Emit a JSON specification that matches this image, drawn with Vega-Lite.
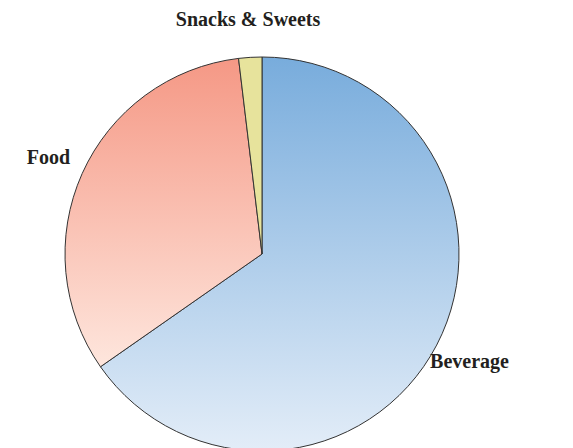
{
  "$schema": "https://vega.github.io/schema/vega-lite/v6.json",
  "autosize": "none",
  "width": 394,
  "height": 394,
  "padding": {"left": 65, "top": 57, "right": 114, "bottom": 0},
  "background": "white",
  "config": {"view": {"stroke": null}},
  "data": {
    "values": [
      {"category": "Beverage", "share": 65.3},
      {"category": "Food", "share": 32.8},
      {"category": "Snacks & Sweets", "share": 1.9}
    ]
  },
  "encoding": {
    "theta": {"field": "share", "type": "quantitative", "stack": true},
    "detail": {"field": "category", "type": "nominal"}
  },
  "layer": [
    {
      "mark": {"type": "arc", "stroke": "#333333", "strokeWidth": 1},
      "encoding": {
        "fill": {
          "condition": [
            {"test": "datum.category === 'Beverage'", "value": {"gradient": "linear", "x1": 0, "y1": 0, "x2": 0, "y2": 1, "stops": [{"offset": 0, "color": "#78acdc"}, {"offset": 1, "color": "#e3edf8"}]}},
            {"test": "datum.category === 'Food'", "value": {"gradient": "linear", "x1": 0, "y1": 0, "x2": 0, "y2": 1, "stops": [{"offset": 0, "color": "#f59885"}, {"offset": 1, "color": "#fee6dd"}]}}
          ],
          "value": "#e7e39c"
        }
      }
    },
    {
      "mark": {"type": "text", "radius": 234, "font": "Liberation Serif", "fontWeight": "bold", "fontSize": 20, "fill": "#231f20"},
      "encoding": {
        "text": {"field": "category", "type": "nominal"}
      }
    }
  ]
}
